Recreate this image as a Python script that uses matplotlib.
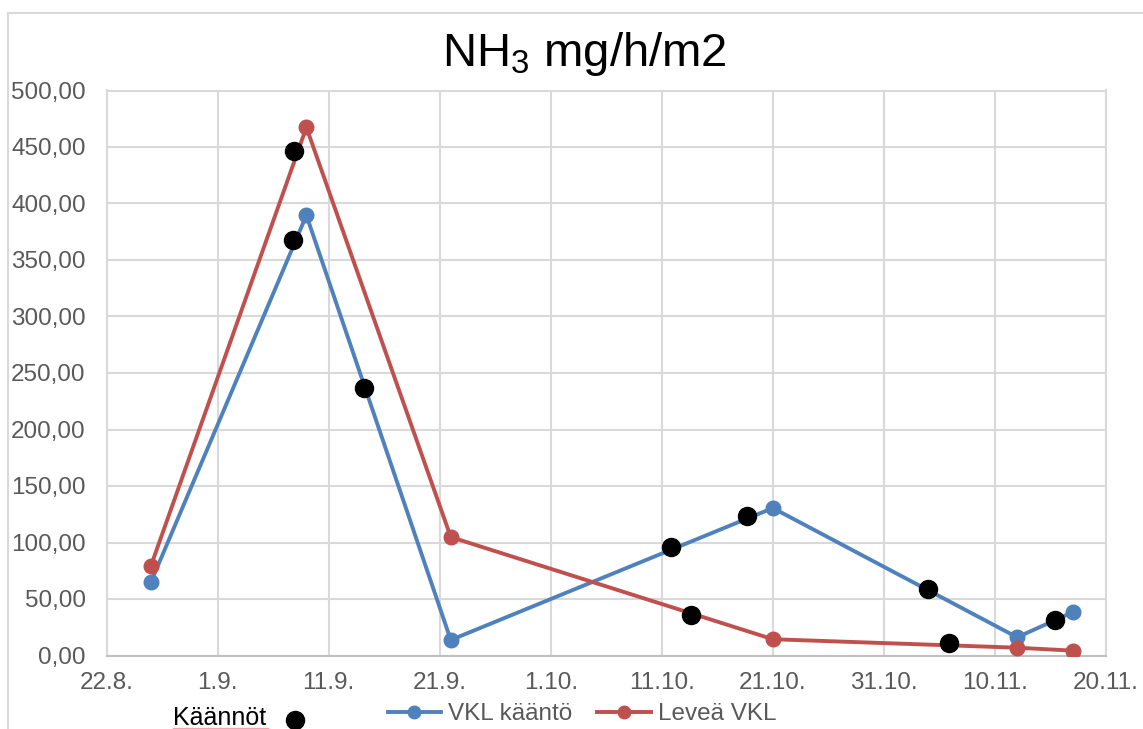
import matplotlib
matplotlib.use("Agg")
import matplotlib.pyplot as plt
from matplotlib.lines import Line2D

plt.rcParams['font.family'] = ['Liberation Sans', 'DejaVu Sans']
plt.rcParams['mathtext.fontset'] = 'custom'
plt.rcParams['mathtext.rm'] = 'Liberation Sans'
plt.rcParams['mathtext.it'] = 'Liberation Sans:italic'

# x values: days after 22.8.
x_ticks = [0, 10, 20, 30, 40, 50, 60, 70, 80, 90]
x_ticklabels = ["22.8.", "1.9.", "11.9.", "21.9.", "1.10.", "11.10.", "21.10.", "31.10.", "10.11.", "20.11."]
y_ticks = [0, 50, 100, 150, 200, 250, 300, 350, 400, 450, 500]

vkl_days = [4, 18, 31, 60, 82, 87]
vkl_values = [64.9, 389.6, 13.7, 130.5, 16.1, 38.3]

levea_days = [4, 18, 31, 60, 82, 87]
levea_values = [79.3, 467.4, 104.8, 14.4, 6.9, 4.3]

kaannot_days = [16.9, 16.8, 23.2, 50.8, 52.6, 57.7, 74.0, 75.9, 85.4]
kaannot_values = [446.6, 367.7, 236.9, 95.6, 35.9, 123.7, 59.0, 10.8, 31.5]

BLUE = "#4F81BD"
RED = "#C0504D"
GRID = "#D9D9D9"
TXT = "#595959"
FS = 17.5

fig = plt.figure(figsize=(11.43, 7.29), dpi=100)
ax = fig.add_axes([106.5 / 1143, 1 - 655.5 / 729, (1106 - 106.5) / 1143, (655.5 - 90.5) / 729])

ax.plot(vkl_days, vkl_values, color=BLUE, lw=2.8, marker='o', ms=10.5, zorder=3, label="VKL kääntö")
ax.plot(levea_days, levea_values, color=RED, lw=2.8, marker='o', ms=10.5, zorder=3, label="Leveä VKL")
ax.plot(kaannot_days, kaannot_values, ls='none', marker='o', ms=13, color='black', zorder=4)

ax.set_xlim(0, 90)
ax.set_ylim(0, 500)
ax.set_xticks(x_ticks)
ax.set_xticklabels(x_ticklabels)
ax.set_yticks(y_ticks)
ax.set_yticklabels([f"{v:.2f}".replace('.', ',') for v in y_ticks])
ax.grid(True, color=GRID, lw=1.5)
ax.set_axisbelow(True)
for s in ['top', 'right', 'left']:
    ax.spines[s].set_color(GRID)
    ax.spines[s].set_linewidth(1.5)
ax.spines['bottom'].set_color("#BFBFBF")
ax.spines['bottom'].set_linewidth(1.5)
ax.tick_params(axis='both', length=0, labelsize=FS, labelcolor=TXT)
ax.tick_params(axis='y', pad=15)
ax.tick_params(axis='x', pad=12)

# title
fig.text(584 / 1143, 1 - 54 / 729, r"NH$_3$ mg/h/m2", ha='center', va='center', fontsize=34, color='black')

# chart border (only top and left visible)
fig.add_artist(Line2D([8 / 1143, 8 / 1143], [0, 1 - 13 / 729], transform=fig.transFigure, color=GRID, lw=1.5))
fig.add_artist(Line2D([8 / 1143, 1], [1 - 13 / 729, 1 - 13 / 729], transform=fig.transFigure, color=GRID, lw=1.5))

# legend
handles = [Line2D([], [], color=BLUE, lw=2.8, marker='o', ms=9),
           Line2D([], [], color=RED, lw=2.8, marker='o', ms=9)]
fig.legend(handles, ["VKL kääntö", "Leveä VKL"], loc='center', bbox_to_anchor=(582 / 1143, 1 - 714 / 729),
           ncol=2, frameon=False, fontsize=FS, labelcolor=TXT, handlelength=2.2, handletextpad=0.3,
           columnspacing=1.0, borderpad=0)

fig.text(173 / 1143, 1 - 718 / 729, "Käännöt", ha='left', va='center', fontsize=18, color='black')
fig.add_artist(Line2D([295 / 1143], [1 - 720 / 729], transform=fig.transFigure, marker='o', ms=13,
                      color='black', ls='none'))
fig.add_artist(Line2D([173 / 1143, 268 / 1143], [1 - 728 / 729, 1 - 728 / 729], transform=fig.transFigure,
                      color="#F4A6A6", lw=1))

fig.savefig("out.png", dpi=100)
